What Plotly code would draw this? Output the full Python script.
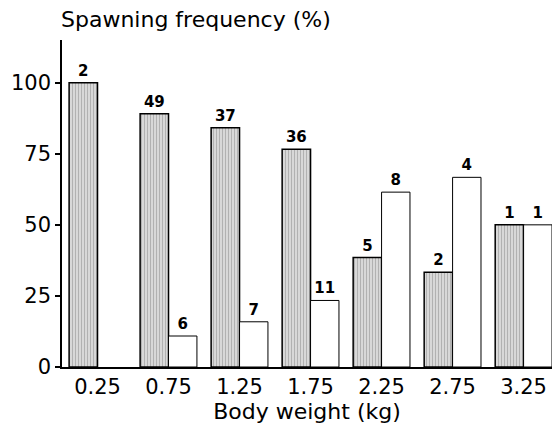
import plotly.graph_objects as go

weights = ["0.25", "0.75", "1.25", "1.75", "2.25", "2.75", "3.25"]
spawn_pct = [100, 89.1, 84.1, 76.6, 38.5, 33.3, 50]
other_pct = [None, 10.9, 15.9, 23.4, 61.5, 66.7, 50]
spawn_n = ["2", "49", "37", "36", "5", "2", "1"]
other_n = ["", "6", "7", "11", "8", "4", "1"]
y_ticks = [0, 25, 50, 75, 100]

xpos = list(range(len(weights)))
FONT = "DejaVu Sans"

fig = go.Figure()
fig.add_trace(go.Bar(
    x=xpos, y=spawn_pct, text=spawn_n, textposition="outside",
    constraintext="none", cliponaxis=False,
    textfont=dict(family=FONT, size=15, color="black", weight="bold"),
    marker=dict(color="#d2d2d2", line=dict(color="black", width=1.5),
                pattern=dict(shape="|", fgcolor="#8a8a8a", bgcolor="#d8d8d8",
                             size=3, solidity=0.35)),
    showlegend=False,
))
fig.add_trace(go.Bar(
    x=xpos, y=other_pct, text=other_n, textposition="outside",
    constraintext="none", cliponaxis=False,
    textfont=dict(family=FONT, size=15, color="black", weight="bold"),
    marker=dict(color="white", line=dict(color="black", width=1)),
    showlegend=False,
))

fig.update_layout(
    width=552, height=428,
    margin=dict(l=62, r=0, t=40, b=61),
    barmode="group", bargap=0.2, bargroupgap=0,
    plot_bgcolor="white", paper_bgcolor="white",
    font=dict(family=FONT, color="black"),
    xaxis=dict(range=[-0.5, 6.4], tickvals=xpos, ticktext=weights,
               showgrid=False, zeroline=False, showline=True,
               linecolor="black", linewidth=1.5, ticks="",
               tickfont=dict(size=21, family=FONT),
               title=dict(text="Body weight (kg)", font=dict(size=22, family=FONT),
                          standoff=6)),
    yaxis=dict(range=[0, 115], tickvals=y_ticks, showgrid=False, zeroline=False,
               showline=True, linecolor="black", linewidth=1.5,
               ticks="outside", ticklen=5, tickwidth=1.5, tickcolor="black",
               tickfont=dict(size=21, family=FONT)),
    annotations=[dict(text="Spawning frequency (%)", xref="paper", yref="paper",
                      x=0, y=1, xanchor="left", yanchor="bottom", yshift=6,
                      xshift=-3, showarrow=False, font=dict(size=22, family=FONT))],
)

fig.write_html("out.html", config={"displayModeBar": False},
               post_script="document.body.style.margin='0';document.body.style.overflow='hidden';")
